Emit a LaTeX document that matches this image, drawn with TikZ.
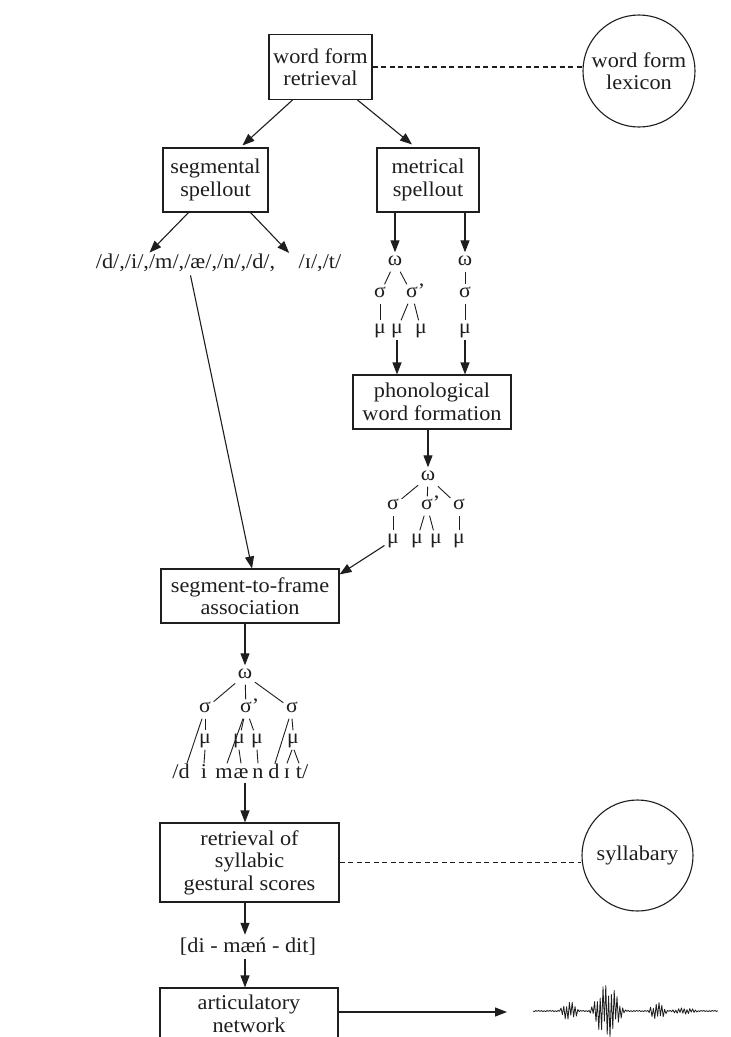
\documentclass[tikz,border=0pt]{standalone}
\usepackage{fontspec}
\setmainfont{Liberation Serif}[FakeStretch=1.06]
\usetikzlibrary{arrows.meta,calc}
\definecolor{ink}{HTML}{1E1E1E}
\begin{document}
\begin{tikzpicture}[x=1pt,y=-1pt,
  every node/.style={text=ink, font=\fontsize{21}{22.5}\selectfont},
  box/.style={draw=ink, line width=1.1pt, align=center, inner sep=0pt},
  circ/.style={draw=ink, line width=1.1pt, circle, align=center, inner sep=0pt, minimum size=112pt},
  arr/.style={draw=ink, line width=1.1pt, -{Triangle[length=12pt,width=9pt]}},
  ln/.style={draw=ink, line width=0.9pt},
  dsh/.style={draw=ink, line width=1.1pt, dash pattern=on 5pt off 3.5pt},
  tr/.style={font=\fontsize{20.5}{20.5}\selectfont, inner sep=2.5pt, text height=10pt, text depth=4pt},
  sg/.style={font=\fontsize{21}{21}\selectfont, inner sep=1.5pt, text height=13pt, text depth=3pt},
  wave/.style={draw=ink, line width=0.8pt, line join=round}
]
\clip (0,0) rectangle (731,1037);
\fill[white] (0,0) rectangle (731,1037);

% top part
\node[box, minimum width=103pt, minimum height=65pt] (wfr) at (320.5,67) {word form\\retrieval};
\node[circ] (lex) at (639,71) {word form\\lexicon};
\draw[dsh] (wfr.east) -- (lex.west |- wfr.east);

\node[box, minimum width=105pt, minimum height=64pt] (seg) at (215.5,180) {segmental\\spellout};
\node[box, minimum width=102pt, minimum height=64pt] (met) at (428,180) {metrical\\spellout};
\draw[arr] ($(wfr.south west)+(24,0)$) -- ($(seg.north)+(27,-2)$);
\draw[arr] ($(wfr.south east)+(-15,0)$) -- ($(met.north)+(-16,-3)$);

\node (ph1) at (185.5,263) {/d/,/i/,/m/,/æ/,/n/,/d/,};
\node (ph2) at (320,263) {/ɪ/,/t/};
\draw[arr] ($(seg.south)+(-27,0)$) -- ($(ph1.north)+(-36,2)$);
\draw[arr] ($(seg.south)+(35,0)$) -- ($(ph2.north west)+(-6,2)$);

% tree 1 (metrical spellout)
\node[tr] (a1) at (395,262) {ω};
\node[tr] (a2) at (465,262) {ω};
\node[tr] (b1) at (380,294) {σ};
\node[tr] (b2) at (412,294) {σ\rlap{'}};
\node[tr] (b3) at (465,294) {σ};
\node[tr] (c1) at (380,330) {μ};
\node[tr] (c2) at (397,330) {μ};
\node[tr] (c3) at (421,330) {μ};
\node[tr] (c4) at (465,330) {μ};
\draw[arr] (a1 |- met.south) -- (a1);
\draw[arr] (a2 |- met.south) -- (a2);
\draw[ln] (a1) -- (b1);
\draw[ln] (a1) -- (b2);
\draw[ln] (b1) -- (c1);
\draw[ln] (b2) -- (c2);
\draw[ln] (b2) -- (c3);
\draw[ln] (a2) -- (b3);
\draw[ln] (b3) -- (c4);

\node[box, minimum width=158pt, minimum height=54pt] (pho) at (432,402) {phonological\\word formation};
\draw[arr] (c2) -- (c2 |- pho.north);
\draw[arr] (c4) -- (c4 |- pho.north);

% tree 2
\node[tr] (d0) at (428,477) {ω};
\node[tr] (e1) at (393,506) {σ};
\node[tr] (e2) at (427,506) {σ\rlap{'}};
\node[tr] (e3) at (459,506) {σ};
\node[tr] (f1) at (393,540) {μ};
\node[tr] (f2) at (417,540) {μ};
\node[tr] (f3) at (436,540) {μ};
\node[tr] (f4) at (459,540) {μ};
\draw[arr] (d0 |- pho.south) -- (d0);
\draw[ln] (d0) -- (e1);
\draw[ln] (d0) -- (e2);
\draw[ln] (d0) -- (e3);
\draw[ln] (e1) -- (f1);
\draw[ln] (e2) -- (f2);
\draw[ln] (e2) -- (f3);
\draw[ln] (e3) -- (f4);

\node[box, minimum width=178pt, minimum height=54pt] (stf) at (250,596) {segment-to-frame\\association};
\draw[arr] (f1) -- ($(stf.north east)+(0,6)$);
\draw[arr] ([xshift=5pt]ph1.south) -- ([xshift=2pt]stf.north);

% tree 3
\node[tr] (g0) at (245,675) {ω};
\node[tr] (h1) at (205,709) {σ};
\node[tr] (h2) at (246,709) {σ\rlap{'}};
\node[tr] (h3) at (292,709) {σ};
\node[tr] (k1) at (205,740) {μ};
\node[tr] (k2) at (239,740) {μ};
\node[tr] (k3) at (257,740) {μ};
\node[tr] (k4) at (293,740) {μ};
\node[sg] (s1) at (181,773) {/d};
\node[sg] (s2) at (204,773) {i};
\node[sg] (s3) at (224,773) {m};
\node[sg] (s4) at (241,773) {æ};
\node[sg] (s5) at (258,773) {n};
\node[sg] (s6) at (274,773) {d};
\node[sg] (s7) at (287,773) {ɪ};
\node[sg] (s8) at (302,773) {t/};
\draw[arr] (g0 |- stf.south) -- (g0);
\draw[ln] (g0) -- (h1);
\draw[ln] (g0) -- (h2);
\draw[ln] (g0) -- (h3);
\draw[ln] ([xshift=-3pt]h1.south) -- ([xshift=6pt]s1.north);
\draw[ln] (h1.south) -- (k1.north);
\draw[ln] (k1.south) -- (s2.north);
\draw[ln] ([xshift=-3pt]h2.south) -- ([xshift=3pt]s3.north);
\draw[ln] (h2) -- (k2);
\draw[ln] (h2) -- (k3);
\draw[ln] (k2.south) -- (s4.north);
\draw[ln] (k3.south) -- (s5.north);
\draw[ln] ([xshift=-3pt]h3.south) -- ([xshift=1pt]s6.north);
\draw[ln] (h3.south) -- (k4.north);
\draw[ln] ([xshift=-1pt]k4.south) -- (s7.north);
\draw[ln] ([xshift=1pt]k4.south) -- ([xshift=-3pt]s8.north);

% bottom part
\node[box, minimum width=179pt, minimum height=79pt] (rsg) at (249.5,862.5) {retrieval of\\syllabic\\gestural scores};
\node[circ, minimum size=111pt] (syl) at (637.5,855.5) {syllabary};
\draw[dsh] (rsg.east) -- (syl.west |- rsg.east);
\draw[arr] (g0 |- s4.south) -- (g0 |- rsg.north);

\node (ipa) at (248,947) {[di - mæń - dit]};
\node[box, minimum width=178pt, minimum height=52pt] (art) at (249,1014) {articulatory\\network};
\draw[arr] (rsg.south -| g0) -- (ipa.north -| g0);
\draw[arr] (ipa.south -| g0) -- (art.north -| g0);

\coordinate (wv) at (507,1012);
\draw[arr] (art.east |- wv) -- (wv);

% waveform
\draw[wave] (533,1011) \foreach \i in {1,...,132} {
  -- ({533+1.4*\i},{1011 + (0.6 + 9*max(0,1-((\i-26)/7)^2) + 27*max(0,1-((\i-53)/14)^2)^2 + 8*max(0,1-((\i-89)/7)^2) + 2.5*max(0,1-((\i-108)/10)^2))*(2*mod(\i,2)-1)*(0.35+0.65*abs(sin(\i*67)))})
};
\end{tikzpicture}
\end{document}
